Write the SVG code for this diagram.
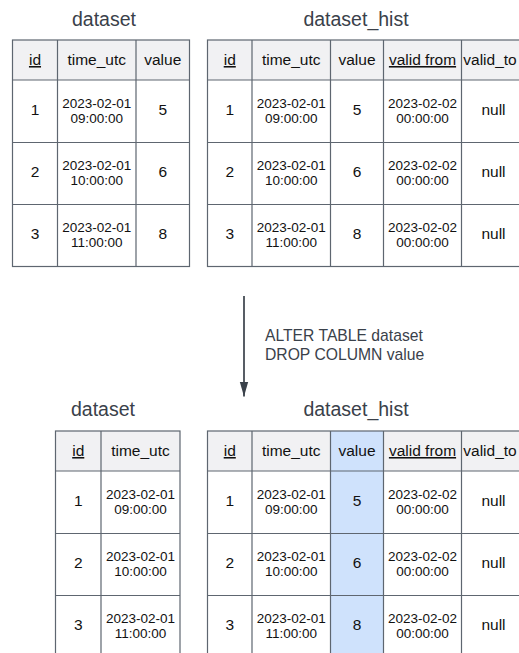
<svg xmlns="http://www.w3.org/2000/svg" width="519" height="653" viewBox="0 0 519 653">
<style>
.bg{fill:#ffffff}
.hdr{fill:#f1f1f3;stroke:none}
.hl{fill:#cfe2fc;stroke:none}
.grid{fill:none;stroke:#5e6670;stroke-width:1.2}
.title{font-family:"Liberation Sans",Arial,sans-serif;font-size:19.5px;fill:#3a414a;text-anchor:middle}
.h{font-family:"Liberation Sans",Arial,sans-serif;font-size:15.5px;fill:#111;text-anchor:middle}
.u{text-decoration:underline}
.n{font-family:"Liberation Sans",Arial,sans-serif;font-size:15.5px;fill:#111;text-anchor:middle}
.d{font-family:"Liberation Sans",Arial,sans-serif;font-size:13.5px;fill:#111;text-anchor:middle}
.lbl{font-family:"Liberation Sans",Arial,sans-serif;font-size:15.7px;fill:#3a414a}
</style>
<defs>
<marker id="ah" markerWidth="16" markerHeight="10" refX="15" refY="5" orient="auto" markerUnits="userSpaceOnUse" viewBox="0 0 16 10">
<path d="M0,0.7 L15,5 L0,9.3 Z" fill="#3a414a"/>
</marker>
</defs>
<rect class="bg" x="0" y="0" width="519" height="653"/>

<!-- Top: dataset -->
<g id="dataset_before">
<text class="title" x="104" y="26">dataset</text>
<rect class="hdr" x="12.5" y="40" width="177" height="40"/>
<rect class="grid" x="12.5" y="40" width="177" height="226.5"/>
<path class="grid" d="M57.5,40V266.5M136,40V266.5M12.5,80H189.5M12.5,142.5H189.5M12.5,204.5H189.5"/>
<text class="h u" x="35" y="65">id</text>
<text class="h" x="96.75" y="65">time_utc</text>
<text class="h" x="162.75" y="65">value</text>
<text class="n" x="35" y="115">1</text>
<text class="d" x="96.75" y="107.5">2023-02-01</text>
<text class="d" x="96.75" y="123">09:00:00</text>
<text class="n" x="162.75" y="115">5</text>
<text class="n" x="35" y="177">2</text>
<text class="d" x="96.75" y="169.5">2023-02-01</text>
<text class="d" x="96.75" y="185">10:00:00</text>
<text class="n" x="162.75" y="177">6</text>
<text class="n" x="35" y="239">3</text>
<text class="d" x="96.75" y="231.5">2023-02-01</text>
<text class="d" x="96.75" y="247">11:00:00</text>
<text class="n" x="162.75" y="239">8</text>
</g>

<!-- Top: dataset_hist -->
<g id="dataset_hist_before">
<text class="title" x="356" y="26">dataset_hist</text>
<rect class="hdr" x="207.5" y="40" width="320" height="40"/>
<rect class="grid" x="207.5" y="40" width="320" height="226.5"/>
<path class="grid" d="M252,40V266.5M330.5,40V266.5M383.5,40V266.5M461.5,40V266.5M207.5,80H527.5M207.5,142.5H527.5M207.5,204.5H527.5"/>
<text class="h u" x="229.75" y="65">id</text>
<text class="h" x="291.25" y="65">time_utc</text>
<text class="h" x="357" y="65">value</text>
<text class="h u" x="422.5" y="65">valid from</text>
<text class="h" x="490" y="65">valid_to</text>
<text class="n" x="229.75" y="115">1</text>
<text class="d" x="291.25" y="107.5">2023-02-01</text>
<text class="d" x="291.25" y="123">09:00:00</text>
<text class="n" x="357" y="115">5</text>
<text class="d" x="422.5" y="107.5">2023-02-02</text>
<text class="d" x="422.5" y="123">00:00:00</text>
<text class="n" x="493.5" y="115">null</text>
<text class="n" x="229.75" y="177">2</text>
<text class="d" x="291.25" y="169.5">2023-02-01</text>
<text class="d" x="291.25" y="185">10:00:00</text>
<text class="n" x="357" y="177">6</text>
<text class="d" x="422.5" y="169.5">2023-02-02</text>
<text class="d" x="422.5" y="185">00:00:00</text>
<text class="n" x="493.5" y="177">null</text>
<text class="n" x="229.75" y="239">3</text>
<text class="d" x="291.25" y="231.5">2023-02-01</text>
<text class="d" x="291.25" y="247">11:00:00</text>
<text class="n" x="357" y="239">8</text>
<text class="d" x="422.5" y="231.5">2023-02-02</text>
<text class="d" x="422.5" y="247">00:00:00</text>
<text class="n" x="493.5" y="239">null</text>
</g>

<!-- Connector -->
<g id="connectors">
<line x1="244" y1="296" x2="244" y2="396.5" stroke="#3a414a" stroke-width="1.7" marker-end="url(#ah)"/>
<text class="lbl" x="265" y="341">ALTER TABLE dataset</text>
<text class="lbl" x="265" y="360">DROP COLUMN value</text>
</g>

<!-- Bottom: dataset -->
<g id="dataset_after">
<text class="title" x="103" y="416">dataset</text>
<rect class="hdr" x="55.5" y="431" width="124.5" height="40"/>
<rect class="grid" x="55.5" y="431" width="124.5" height="240"/>
<path class="grid" d="M101,431V671M55.5,471H180M55.5,533.5H180M55.5,595.5H180"/>
<text class="h u" x="78.25" y="456">id</text>
<text class="h" x="140.5" y="456">time_utc</text>
<text class="n" x="78.25" y="506">1</text>
<text class="d" x="140.5" y="498.5">2023-02-01</text>
<text class="d" x="140.5" y="514">09:00:00</text>
<text class="n" x="78.25" y="568">2</text>
<text class="d" x="140.5" y="560.5">2023-02-01</text>
<text class="d" x="140.5" y="576">10:00:00</text>
<text class="n" x="78.25" y="630">3</text>
<text class="d" x="140.5" y="622.5">2023-02-01</text>
<text class="d" x="140.5" y="638">11:00:00</text>
</g>

<!-- Bottom: dataset_hist -->
<g id="dataset_hist_after">
<text class="title" x="356" y="416">dataset_hist</text>
<rect class="hdr" x="207.5" y="431" width="320" height="40"/>
<rect class="hl" x="330.5" y="431" width="53" height="240"/>
<rect class="grid" x="207.5" y="431" width="320" height="240"/>
<path class="grid" d="M252,431V671M330.5,431V671M383.5,431V671M461.5,431V671M207.5,471H527.5M207.5,533.5H527.5M207.5,595.5H527.5"/>
<text class="h u" x="229.75" y="456">id</text>
<text class="h" x="291.25" y="456">time_utc</text>
<text class="h" x="357" y="456">value</text>
<text class="h u" x="422.5" y="456">valid from</text>
<text class="h" x="490" y="456">valid_to</text>
<text class="n" x="229.75" y="506">1</text>
<text class="d" x="291.25" y="498.5">2023-02-01</text>
<text class="d" x="291.25" y="514">09:00:00</text>
<text class="n" x="357" y="506">5</text>
<text class="d" x="422.5" y="498.5">2023-02-02</text>
<text class="d" x="422.5" y="514">00:00:00</text>
<text class="n" x="493.5" y="506">null</text>
<text class="n" x="229.75" y="568">2</text>
<text class="d" x="291.25" y="560.5">2023-02-01</text>
<text class="d" x="291.25" y="576">10:00:00</text>
<text class="n" x="357" y="568">6</text>
<text class="d" x="422.5" y="560.5">2023-02-02</text>
<text class="d" x="422.5" y="576">00:00:00</text>
<text class="n" x="493.5" y="568">null</text>
<text class="n" x="229.75" y="630">3</text>
<text class="d" x="291.25" y="622.5">2023-02-01</text>
<text class="d" x="291.25" y="638">11:00:00</text>
<text class="n" x="357" y="630">8</text>
<text class="d" x="422.5" y="622.5">2023-02-02</text>
<text class="d" x="422.5" y="638">00:00:00</text>
<text class="n" x="493.5" y="630">null</text>
</g>
</svg>
